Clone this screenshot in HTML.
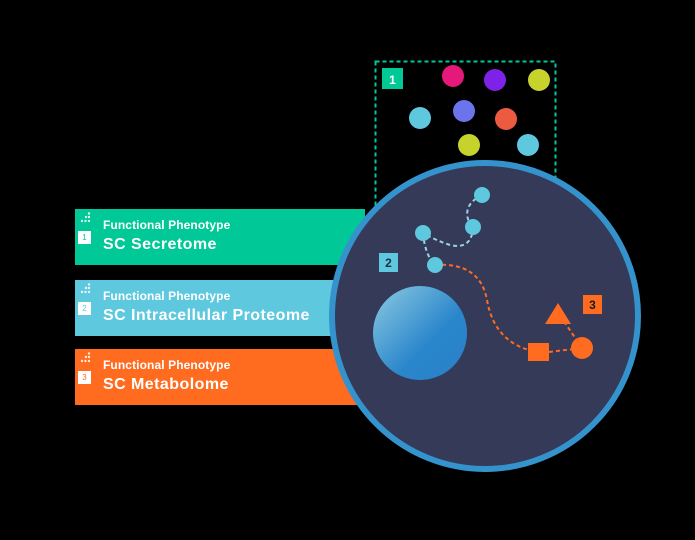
<!DOCTYPE html>
<html><head><style>
body{margin:0;background:#000;width:695px;height:540px;overflow:hidden;font-family:"Liberation Sans",sans-serif}
.bar{position:absolute;left:75px;width:290px;height:56px;color:#fff}
.bar .t1{position:absolute;left:28px;top:9px;font-size:12px;font-weight:bold;letter-spacing:.1px}
.bar .t2{position:absolute;left:28px;top:27px;font-size:16px;font-weight:bold;letter-spacing:.45px}
.num{position:absolute;left:3px;top:22px;width:13px;height:13px;background:#fff;font-size:8px;text-align:center;line-height:13px}
.ic{position:absolute;left:5px;top:3px}
</style></head><body>
<div class="bar" style="top:209px;background:#00c896"><svg class="ic" width="12" height="12"><g fill="#fff" opacity=".85"><circle cx="9" cy="1.5" r="1.2"/><circle cx="6" cy="5" r="1.2"/><circle cx="9" cy="5" r="1.2"/><circle cx="2" cy="9" r="1.2"/><circle cx="5.5" cy="9" r="1.2"/><circle cx="9" cy="9" r="1.2"/></g></svg><div class="num" style="color:#00c896">1</div><div class="t1">Functional Phenotype</div><div class="t2">SC Secretome</div></div>
<div class="bar" style="top:280px;background:#5ec8df"><svg class="ic" width="12" height="12"><g fill="#fff" opacity=".85"><circle cx="9" cy="1.5" r="1.2"/><circle cx="6" cy="5" r="1.2"/><circle cx="9" cy="5" r="1.2"/><circle cx="2" cy="9" r="1.2"/><circle cx="5.5" cy="9" r="1.2"/><circle cx="9" cy="9" r="1.2"/></g></svg><div class="num" style="color:#5ec8df">2</div><div class="t1">Functional Phenotype</div><div class="t2">SC Intracellular Proteome</div></div>
<div class="bar" style="top:349px;background:#ff6b1f"><svg class="ic" width="12" height="12"><g fill="#fff" opacity=".85"><circle cx="9" cy="1.5" r="1.2"/><circle cx="6" cy="5" r="1.2"/><circle cx="9" cy="5" r="1.2"/><circle cx="2" cy="9" r="1.2"/><circle cx="5.5" cy="9" r="1.2"/><circle cx="9" cy="9" r="1.2"/></g></svg><div class="num" style="color:#ff6b1f">3</div><div class="t1">Functional Phenotype</div><div class="t2">SC Metabolome</div></div>
<svg width="695" height="540" style="position:absolute;left:0;top:0">
<defs><linearGradient id="g" x1="0" y1="0" x2="1" y2="1"><stop offset="0" stop-color="#8ccbe2"/><stop offset="0.6" stop-color="#2a86cb"/><stop offset="1" stop-color="#2a80c8"/></linearGradient></defs>
<rect x="375.5" y="61.5" width="180" height="200" fill="none" stroke="#00c896" stroke-width="2" stroke-dasharray="4,3"/>
<rect x="382" y="68" width="21" height="21" fill="#00c896"/>
<text x="392.5" y="84" font-size="12" font-weight="bold" fill="#fff" text-anchor="middle">1</text>
<circle cx="453" cy="76" r="11" fill="#e5197a"/>
<circle cx="495" cy="80" r="11" fill="#7e22e8"/>
<circle cx="539" cy="80" r="11" fill="#c5d32c"/>
<circle cx="420" cy="118" r="11" fill="#5ec8df"/>
<circle cx="464" cy="111" r="11" fill="#6b74ea"/>
<circle cx="506" cy="119" r="11" fill="#ec5a40"/>
<circle cx="469" cy="145" r="11" fill="#c5d32c"/>
<circle cx="528" cy="145" r="11" fill="#5ec8df"/>
<circle cx="485" cy="316" r="153" fill="#343a58" stroke="#3493cd" stroke-width="6"/>
<circle cx="420" cy="333" r="47" fill="url(#g)"/>
<path d="M482 195 Q462 205 469 222 M473 227 Q472 250 450 245 Q435 240 423 233 M423 233 Q425 255 435 265" fill="none" stroke="#9fd0e4" stroke-width="2" stroke-dasharray="4,3"/>
<path d="M435 265 Q480 262 487 300 Q495 345 538 352 M549 352 L582 348 M582 348 L563 320" fill="none" stroke="#ff6b1f" stroke-width="2" stroke-dasharray="4,3"/>
<circle cx="482" cy="195" r="8" fill="#5ec8df"/>
<circle cx="473" cy="227" r="8" fill="#5ec8df"/>
<circle cx="423" cy="233" r="8" fill="#5ec8df"/>
<circle cx="435" cy="265" r="8" fill="#5ec8df"/>
<rect x="379" y="253" width="19" height="19" fill="#5ec8df"/>
<text x="388.5" y="267" font-size="12" font-weight="bold" fill="#1f2a44" text-anchor="middle">2</text>
<rect x="528" y="343" width="21" height="18" fill="#ff6b1f"/>
<circle cx="582" cy="348" r="11" fill="#ff6b1f"/>
<polygon points="558,303 571,324 545,324" fill="#ff6b1f"/>
<rect x="583" y="295" width="19" height="19" fill="#ff6b1f"/>
<text x="592.5" y="309" font-size="12" font-weight="bold" fill="#1a1a1a" text-anchor="middle">3</text>
</svg>
</body></html>
